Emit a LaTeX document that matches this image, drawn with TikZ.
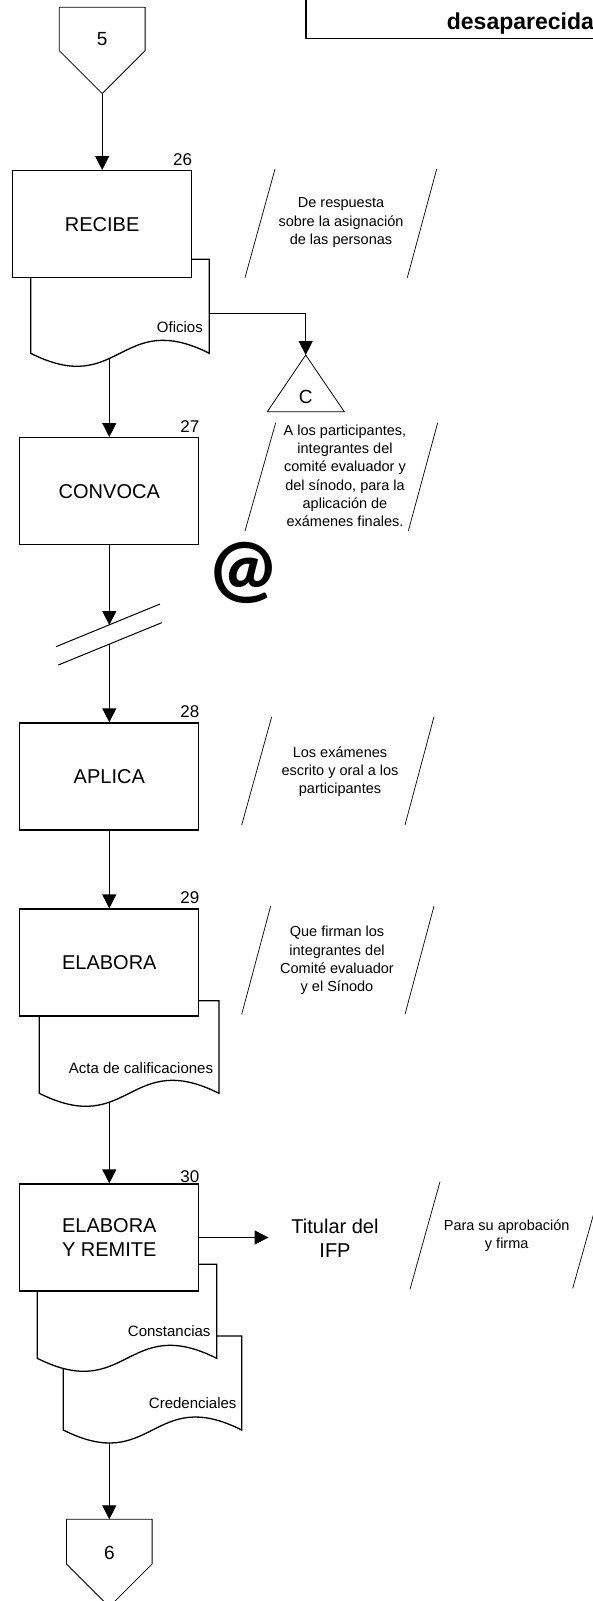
\documentclass[tikz,border=0pt]{standalone}
\usepackage{fontspec}
\setmainfont{Liberation Sans}
\newfontfamily\arrobafont{Carlito}
\usetikzlibrary{arrows.meta,calc,backgrounds}
\tikzset{
  proceso/.style={draw, line width=1.3pt, fill=white, minimum width=179pt, minimum height=107pt, inner sep=0pt, align=center, font=\fontsize{20}{24.5}\selectfont},
  numero/.style={anchor=south east, inner xsep=0pt, inner ysep=4pt, font=\fontsize{17}{20}\selectfont},
  documento/.style={draw, line width=1.3pt, fill=white},
  etiqdoc/.style={anchor=east, inner sep=0pt, font=\fontsize{15}{18}\selectfont},
  nota/.style={align=center, inner sep=0pt, font=\fontsize{14.5}{18.2}\selectfont},
  raya/.style={line width=0.7pt},
  conector/.style={draw, line width=0.8pt, fill=white},
  cifra/.style={inner sep=0pt, font=\fontsize{19}{22}\selectfont},
  flecha/.style={-{Triangle[length=14pt,width=14pt]}, line width=1.3pt},
}
\begin{document}
\begin{tikzpicture}[x=1pt, y=-1pt]
  \useasboundingbox (0,0) rectangle (593,1601);
  \clip (0,0) rectangle (593,1601);

  % encabezado
  \node[draw, line width=1.5pt, anchor=south west, minimum width=330pt, minimum height=80pt] (marco) at (305,39.3) {};
  \node[anchor=base west, inner sep=0pt, font=\fontsize{23}{27}\selectfont\bfseries] (titulo) at (446.7,29.3) {desaparecida};

  % conectores de pagina
  \draw[conector] (59.3,7.3) -- (145.1,7.3) -- (145.1,50.7) -- (102.2,93.6) -- (59.3,50.7) -- cycle;
  \coordinate (p5) at (102.2,93.6);
  \node[cifra] (n5) at (102.2,39) {5};
  \draw[conector] (66.5,1519.3) -- (152.1,1519.3) -- (152.1,1564) -- (109.3,1606.8) -- (66.5,1564) -- cycle;
  \coordinate (p6) at (109.3,1519.3);
  \node[cifra] (n6) at (109.3,1553.3) {6};

  % documentos
  \draw[documento] (30.7,259.3) -- (209.3,259.3) -- (209.3,353.3) .. controls (120,308.3) and (120,398.3) .. (30.7,353.3) -- cycle;
  \draw[documento] (39.3,1000.7) -- (219,1000.7) -- (219,1093.3) .. controls (129.2,1048.3) and (129.2,1138.3) .. (39.3,1093.3) -- cycle;
  \draw[documento] (63.3,1336) -- (241.7,1336) -- (241.7,1430) .. controls (152.5,1385) and (152.5,1475) .. (63.3,1430) -- cycle;
  \draw[documento] (37.3,1264.3) -- (216.7,1264.3) -- (216.7,1358.3) .. controls (127,1313.3) and (127,1403.3) .. (37.3,1358.3) -- cycle;
  \node[etiqdoc] (oficios) at (203,326.7) {Oficios};
  \node[etiqdoc] (acta) at (213.3,1067.7) {Acta de calificaciones};
  \node[etiqdoc] (constancias) at (210.7,1330.7) {Constancias};
  \node[etiqdoc] (credenciales) at (236.7,1402.7) {Credenciales};
  \coordinate (ofisal) at (209.3,313.3);

  % procesos
  \node[proceso] (recibe) at (102.2,224.2) {RECIBE};
  \node[proceso] (convoca) at (109.3,491.2) {CONVOCA};
  \node[proceso] (aplica) at (109.3,776.4) {APLICA};
  \node[proceso] (elabora) at (109.3,962.5) {ELABORA};
  \node[proceso] (remite) at (109.3,1237.5) {ELABORA\\Y REMITE};
  \node[numero] (num26) at (recibe.north east) {26};
  \node[numero] (num27) at (convoca.north east) {27};
  \node[numero] (num28) at (aplica.north east) {28};
  \node[numero] (num29) at (elabora.north east) {29};
  \node[numero, inner ysep=0.5pt] (num30) at (remite.north east) {30};

  % conector C
  \draw[conector] (305.7,355) -- (344.3,411.7) -- (267.3,411.7) -- cycle;
  \coordinate (cima) at (305.7,355);
  \node[cifra] (letc) at (305.7,396.7) {C};

  \node[inner sep=0pt, font=\arrobafont\bfseries\fontsize{80}{80}\selectfont] (arroba) at (243.3,573.3) {@};

  \node[align=center, inner sep=0pt, font=\fontsize{20}{24}\selectfont] (titular) at (335,1238.3) {Titular del\\IFP};

  % corte
  \coordinate (corte1) at (109.3,625);
  \coordinate (corte2) at (109.3,644.3);
  \draw[line width=1pt] (56,646.7) -- (160,604);
  \draw[line width=1pt] (58.3,665) -- (161.7,622.7);

  % notas
  \node[nota] (nota26) at (341,222.7) {De respuesta\\sobre la asignación\\de las personas};
  \draw[raya] (275,169) -- (245,277.7);
  \draw[raya] (436.7,169) -- (407.3,277.7);
  \node[nota] (nota27) at (345,475.8) {A los participantes,\\integrantes del\\comité evaluador y\\del sínodo, para la\\aplicación de\\exámenes finales.};
  \draw[raya] (275.7,422.7) -- (245,531);
  \draw[raya] (437.7,422.7) -- (408.3,531);
  \node[nota] (nota28) at (340,771.5) {Los exámenes\\escrito y oral a los\\participantes};
  \draw[raya] (271.7,716.7) -- (241.7,825);
  \draw[raya] (434,716.7) -- (405,825);
  \node[nota] (nota29) at (337,960.5) {Que firman los\\integrantes del\\Comité evaluador\\y el Sínodo};
  \draw[raya] (270.7,906) -- (241.7,1014.3);
  \draw[raya] (434,906) -- (405,1014.3);
  \node[nota] (nota30) at (506.7,1235.5) {Para su aprobación\\y firma};
  \draw[raya] (440,1181.7) -- (410,1289.3);
  \draw[raya] (602.7,1181.7) -- (572.7,1288.3);

  % flechas
  \begin{scope}[on background layer]
    \draw[flecha] (p5) -- (recibe.north);
    \draw[flecha] (recibe.south -| convoca.north) -- (convoca.north);
    \draw[flecha] (convoca.south) -- (corte1);
    \draw[flecha] (corte2) -- (aplica.north);
    \draw[flecha] (aplica.south) -- (elabora.north);
    \draw[flecha] (elabora.south) -- (remite.north);
    \draw[flecha] (remite.south) -- (p6);
  \end{scope}
  \draw[flecha] (ofisal) -| (cima);
  \draw[flecha, shorten >=22.7pt] (remite.east) -- (remite.east -| titular.west);
\end{tikzpicture}
\end{document}
